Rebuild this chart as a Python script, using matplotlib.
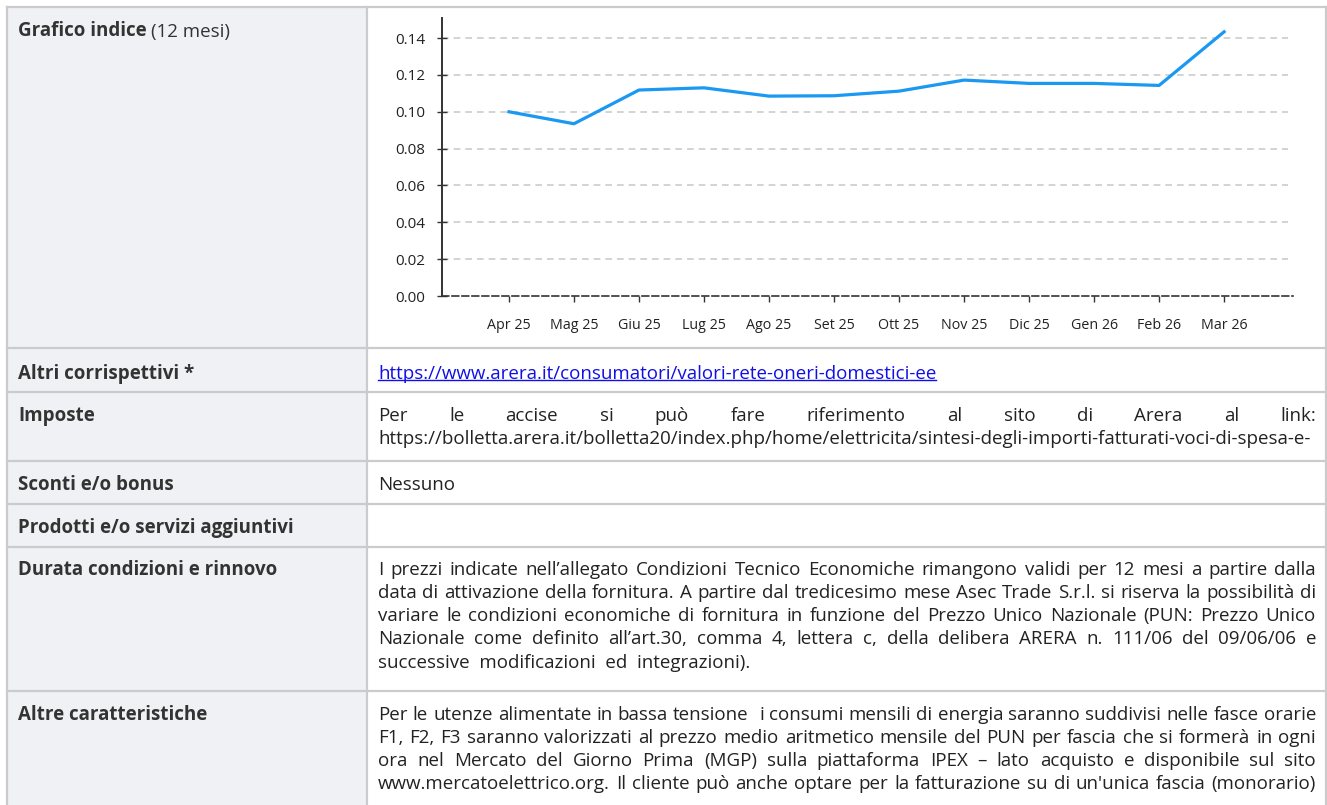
import matplotlib
matplotlib.use("Agg")
import matplotlib.pyplot as plt
from matplotlib.patches import Rectangle
from matplotlib.ticker import FormatStrFormatter

plt.rcParams['font.family'] = ['Open Sans', 'DejaVu Sans']

# chart data
months = ['Apr 25', 'Mag 25', 'Giu 25', 'Lug 25', 'Ago 25', 'Set 25',
          'Ott 25', 'Nov 25', 'Dic 25', 'Gen 26', 'Feb 26', 'Mar 26']
index_values = [0.1000, 0.0935, 0.1118, 0.1130, 0.1085, 0.1087,
                0.1112, 0.1172, 0.1154, 0.1154, 0.1143, 0.1434]
y_ticks = [0.00, 0.02, 0.04, 0.06, 0.08, 0.10, 0.12, 0.14]

W, H = 1327, 805
fig = plt.figure(figsize=(W / 100, H / 100), dpi=100)
fig.patch.set_facecolor('white')

# background axes in pixel coordinates for the table
bg = fig.add_axes([0, 0, 1, 1])
bg.set_xlim(0, W)
bg.set_ylim(H, 0)
bg.axis('off')
renderer = fig.canvas.get_renderer()

x_left, x_div, x_right = 7, 367, 1326
rows = [7, 348, 392, 461, 504, 547, 691, 830]
border = '#cbcbcd'
label_col = '#f0f1f5'
fs = 13.5
txt_col = '#222222'
lab_col = '#333333'
dy = 1.5  # text nudge

bg.add_patch(Rectangle((x_left, rows[0]), x_div - x_left, H + 30, facecolor=label_col,
                       edgecolor='none', zorder=0))
for y in rows:
    bg.plot([x_left, x_right], [y, y], color=border, lw=1.6, zorder=1)
for x in (x_left, x_div, x_right):
    bg.plot([x, x], [rows[0], H + 30], color=border, lw=1.6, zorder=1)


def width_of(t):
    return t.get_window_extent(renderer).width


def justify(words, x0, x1, y, **kw):
    texts = [bg.text(0, y + dy, w, va='center', ha='left', fontsize=fs, color=txt_col, **kw)
             for w in words]
    widths = [width_of(t) if t.get_text() else 0 for t in texts]
    gap = (x1 - x0 - sum(widths)) / (len(words) - 1)
    x = x0
    for t, w in zip(texts, widths):
        t.set_x(x)
        x += w + gap


def label(y, s):
    bg.text(18, y + dy, s, va='center', ha='left', fontsize=fs, fontweight='bold',
            color=lab_col)


def plain(y, s, color=txt_col):
    return bg.text(tx0, y + dy, s, va='center', ha='left', fontsize=fs, color=color)


tx0, tx1 = 378, 1316

# row labels
t = bg.text(18, 30 + dy, 'Grafico indice', va='center', ha='left', fontsize=fs,
            fontweight='bold', color=lab_col)
bg.text(18 + width_of(t) + 4, 30 + dy, '(12 mesi)', va='center', ha='left', fontsize=fs,
        color=lab_col)
label(372, 'Altri corrispettivi *')
label(414, 'Imposte')
label(483, 'Sconti e/o bonus')
label(526, 'Prodotti e/o servizi aggiuntivi')
label(568, 'Durata condizioni e rinnovo')
label(713, 'Altre caratteristiche')

# link
link_col = '#0f0fe6'
lk = plain(372, 'https://www.arera.it/consumatori/valori-rete-oneri-domestici-ee', link_col)
bg.plot([tx0, tx0 + width_of(lk)], [380.5, 380.5], color=link_col, lw=1)

# imposte
justify('Per le accise si può fare riferimento al sito di Arera al link:'.split(' '),
        tx0, tx1, 414)
plain(437, 'https://bolletta.arera.it/bolletta20/index.php/home/elettricita/'
      'sintesi-degli-importi-fatturati-voci-di-spesa-e-')

plain(483, 'Nessuno')

durata = [
    'I prezzi indicate nell’allegato Condizioni Tecnico Economiche rimangono validi per 12 mesi a partire dalla',
    'data di attivazione della fornitura. A partire dal tredicesimo mese Asec Trade S.r.l. si riserva la possibilità di',
    'variare le condizioni economiche di fornitura in funzione del Prezzo Unico Nazionale (PUN: Prezzo Unico',
    'Nazionale come definito all’art.30, comma 4, lettera c, della delibera ARERA n. 111/06 del 09/06/06 e',
]
for i, line in enumerate(durata):
    justify(line.split(' '), tx0, tx1, 568 + i * 23.3)
plain(568 + 4 * 23.3, 'successive  modificazioni  ed  integrazioni).')

altre = [
    'Per le utenze alimentate in bassa tensione  i consumi mensili di energia saranno suddivisi nelle fasce orarie',
    'F1, F2, F3 saranno valorizzati al prezzo medio aritmetico mensile del PUN per fascia che si formerà in ogni',
    'ora nel Mercato del Giorno Prima (MGP) sulla piattaforma IPEX – lato acquisto e disponibile sul sito',
    "www.mercatoelettrico.org. Il cliente può anche optare per la fatturazione su di un'unica fascia (monorario)",
]
for i, line in enumerate(altre):
    justify(line.split(' '), tx0, tx1, 713 + i * 23.3)

# chart
ax_l, ax_r, ax_b, ax_t = 442, 1293, 296, 18
ax = fig.add_axes([ax_l / W, (H - ax_b) / H, (ax_r - ax_l) / W, (ax_b - ax_t) / H])
ax.patch.set_alpha(0)
x = list(range(len(months)))
ax.plot(x, index_values, color='#1a98f2', lw=2.3, solid_joinstyle='round', zorder=3)
ax.set_xlim(-1.03, 12.06)
ax.set_ylim(0, 0.1509)
ax.set_yticks(y_ticks)
ax.yaxis.set_major_formatter(FormatStrFormatter('%.2f'))
ax.set_xticks(x)
ax.set_xticklabels(months)
for yv in y_ticks[1:]:
    ax.plot([-1.03, 11.98], [yv, yv], color='#cccccc', lw=1.2, ls=(0, (4, 3)), zorder=1)
for s in ('top', 'right'):
    ax.spines[s].set_visible(False)
ax.spines['left'].set_color('#333333')
ax.spines['left'].set_linewidth(1.4)
ax.spines['bottom'].set_color('#333333')
ax.spines['bottom'].set_linewidth(1.2)
ax.spines['bottom'].set_linestyle((0, (4, 2)))
ax.tick_params(axis='y', direction='inout', length=7, width=1, color='#333333',
               labelsize=11, labelcolor='#222222', pad=8.5)
ax.tick_params(axis='x', direction='out', length=4.5, width=1, color='#333333',
               labelsize=10.3, labelcolor='#222222', pad=11)

fig.savefig('out.png', dpi=100)
plt.close(fig)
